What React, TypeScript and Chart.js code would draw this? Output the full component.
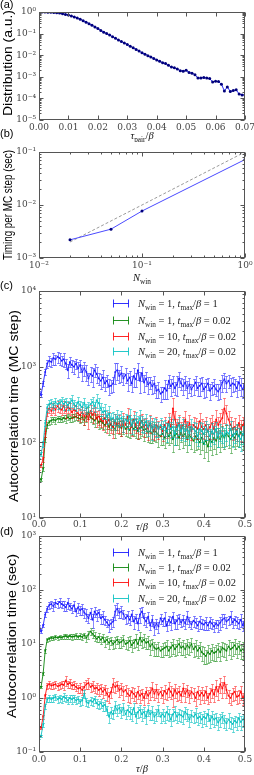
import React, { useEffect, useRef } from 'react';
import { Chart, registerables } from 'chart.js';

Chart.register(...registerables);

// ---------------- panel (a): distribution of pair lengths ----------------
const pairTau = [0, 0.001, 0.002, 0.003, 0.004, 0.005, 0.006, 0.007, 0.008, 0.009,
  0.01, 0.011, 0.012, 0.013, 0.014, 0.015, 0.016, 0.017, 0.018, 0.019,
  0.02, 0.021, 0.022, 0.023, 0.024, 0.025, 0.026, 0.027, 0.028, 0.029,
  0.03, 0.031, 0.032, 0.033, 0.034, 0.035, 0.036, 0.037, 0.038, 0.039,
  0.04, 0.041, 0.042, 0.043, 0.044, 0.045, 0.046, 0.047, 0.048, 0.049,
  0.05, 0.051, 0.052, 0.053, 0.054, 0.055, 0.056, 0.057, 0.058, 0.059,
  0.06, 0.061, 0.062, 0.063, 0.064, 0.065, 0.066, 0.067, 0.068, 0.069, 0.07];
const pairDist = [1.0, 1.0, 0.989, 0.977, 0.966, 0.944, 0.923, 0.891, 0.832, 0.776,
  0.724, 0.661, 0.589, 0.525, 0.457, 0.398, 0.339, 0.288, 0.245, 0.204,
  0.170, 0.141, 0.117, 0.100, 0.0851, 0.0724, 0.0603, 0.0501, 0.0427, 0.0372,
  0.0316, 0.0263, 0.0219, 0.0186, 0.0155, 0.0129, 0.0112, 0.00955, 0.00832, 0.00708,
  0.00603, 0.00525, 0.00447, 0.00417, 0.00339, 0.00282, 0.00263, 0.00229, 0.00191, 0.00182,
  0.00200, 0.00158, 0.00145, 0.00126, 0.00087, 0.00087, 0.00093, 0.00087, 0.00083, 0.00058,
  0.00063, 0.00060, 0.00045, 0.00022, 0.00034, 0.00021, 0.00023, 0.00025, 0.00016, 0.000145, 0.000145];
const pairTicks = [0, 0.01, 0.02, 0.03, 0.04, 0.05, 0.06, 0.07];
const distDecades = [1e-5, 1e-4, 1e-3, 1e-2, 1e-1, 1];

// ---------------- panel (b): timing per MC step ----------------
const winFraction = [0.02, 0.05, 0.1, 1];
const timingPerStep = [0.0022, 0.0035, 0.0077, 0.072];
const idealFraction = [0.02, 1];
const idealTiming = [0.002, 0.1];
const winDecades = [0.01, 0.1, 1];
const timingDecades = [0.001, 0.01, 0.1];

// ---------------- panels (c), (d): autocorrelation times ----------------
const tauGrid = [0, 0.005, 0.01, 0.015, 0.02, 0.025, 0.03, 0.035, 0.04, 0.045,
  0.05, 0.055, 0.06, 0.065, 0.07, 0.075, 0.08, 0.085, 0.09, 0.095,
  0.1, 0.105, 0.11, 0.115, 0.12, 0.125, 0.13, 0.135, 0.14, 0.145,
  0.15, 0.155, 0.16, 0.165, 0.17, 0.175, 0.18, 0.185, 0.19, 0.195,
  0.2, 0.205, 0.21, 0.215, 0.22, 0.225, 0.23, 0.235, 0.24, 0.245,
  0.25, 0.255, 0.26, 0.265, 0.27, 0.275, 0.28, 0.285, 0.29, 0.295,
  0.3, 0.305, 0.31, 0.315, 0.32, 0.325, 0.33, 0.335, 0.34, 0.345,
  0.35, 0.355, 0.36, 0.365, 0.37, 0.375, 0.38, 0.385, 0.39, 0.395,
  0.4, 0.405, 0.41, 0.415, 0.42, 0.425, 0.43, 0.435, 0.44, 0.445,
  0.45, 0.455, 0.46, 0.465, 0.47, 0.475, 0.48, 0.485, 0.49, 0.495, 0.5];
const tauTicks = [0, 0.1, 0.2, 0.3, 0.4, 0.5];
const mcDecades = [10, 100, 1000, 10000];
const secDecades = [0.1, 1, 10, 100, 1000];

// (c) autocorrelation time in MC steps
const mcBlue = [500, 420, 600, 850, 1100, 1200, 1150, 1300, 1250, 1350,
  1300, 1200, 1250, 1100, 900, 1150, 1050, 1000, 1100, 950,
  1050, 850, 950, 850, 700, 800, 750, 900, 800, 700,
  650, 720, 600, 650, 550, 560, 600, 850, 900, 750,
  820, 700, 780, 650, 720, 600, 750, 680, 900, 650,
  820, 620, 700, 580, 620, 550, 600, 480, 500, 440,
  460, 520, 480, 650, 550, 600, 520, 580, 700, 600,
  550, 620, 520, 580, 500, 560, 620, 520, 560, 600,
  500, 540, 600, 480, 520, 560, 500, 470, 520, 620,
  680, 600, 650, 560, 600, 580, 520, 620, 560, 500, 650];
const mcGreen = [32, 32, 45, 110, 170, 185, 195, 200, 195, 205,
  205, 200, 210, 205, 215, 205, 210, 215, 220, 210,
  205, 215, 195, 220, 250, 215, 205, 195, 210, 185,
  190, 180, 170, 185, 160, 175, 160, 150, 175, 160,
  155, 170, 150, 160, 145, 165, 150, 160, 140, 155,
  160, 145, 150, 135, 140, 130, 145, 135, 125, 120,
  130, 115, 140, 120, 135, 110, 125, 130, 115, 135,
  120, 130, 110, 125, 115, 105, 120, 110, 100, 115,
  95, 105, 88, 110, 100, 115, 105, 120, 110, 125,
  115, 130, 120, 110, 125, 115, 130, 120, 135, 125, 120];
const mcRed = [45, 50, 60, 130, 250, 280, 260, 290, 270, 300,
  280, 270, 300, 260, 290, 280, 250, 270, 260, 240,
  230, 250, 220, 240, 200, 260, 230, 250, 210, 220,
  200, 190, 210, 180, 200, 170, 160, 190, 170, 180,
  160, 190, 170, 220, 180, 160, 200, 170, 150, 180,
  190, 160, 170, 150, 180, 160, 140, 170, 150, 160,
  140, 170, 150, 190, 160, 280, 200, 160, 180, 150,
  170, 200, 150, 180, 140, 170, 160, 150, 190, 160,
  150, 170, 140, 160, 180, 150, 200, 170, 190, 210,
  280, 240, 200, 170, 150, 160, 140, 180, 150, 170, 190];
const mcCyan = [65, 70, 95, 180, 290, 320, 330, 310, 340, 320,
  330, 350, 320, 340, 310, 330, 360, 320, 300, 340,
  310, 290, 330, 280, 300, 320, 340, 300, 360, 330,
  280, 250, 260, 220, 240, 200, 210, 190, 220, 200,
  210, 180, 200, 190, 220, 170, 190, 200, 180, 210,
  180, 170, 190, 160, 180, 150, 170, 160, 150, 170,
  150, 160, 140, 170, 150, 160, 130, 150, 170, 140,
  160, 140, 150, 130, 160, 150, 140, 120, 150, 140,
  130, 150, 140, 120, 140, 130, 150, 120, 140, 130,
  120, 140, 130, 150, 120, 130, 140, 120, 110, 130, 120];

// (d) autocorrelation time in seconds
const secBlue = [24, 17, 22, 35, 45, 53, 55, 50, 58, 55,
  60, 55, 52, 48, 58, 50, 45, 52, 40, 48,
  42, 45, 38, 35, 30, 38, 28, 40, 35, 38,
  30, 32, 28, 25, 22, 24, 26, 40, 45, 38,
  40, 36, 30, 33, 28, 35, 26, 30, 24, 35,
  40, 30, 26, 32, 22, 28, 20, 24, 21, 30,
  26, 30, 22, 28, 25, 32, 24, 27, 30, 25,
  28, 24, 32, 26, 23, 27, 25, 22, 26, 24,
  23, 25, 22, 26, 24, 21, 24, 22, 25, 28,
  30, 26, 28, 32, 25, 28, 26, 24, 28, 22, 30];
const secGreen = [1.6, 1.6, 2.8, 7.5, 12, 12.5, 13, 12.8, 13.5, 13,
  13.5, 13.2, 13.8, 14, 13.5, 14, 13.6, 13.8, 14.2, 13.5,
  14, 13.5, 14.5, 13, 15, 17, 15.5, 14, 12.5, 13.5,
  12, 13, 11, 12, 10.5, 11.5, 10, 11, 12, 10.5,
  11, 12, 10, 10.5, 11.5, 9.5, 10.5, 12, 10, 13,
  11, 12, 10.5, 11, 9, 10, 8.5, 8, 8.5, 7.5,
  8, 8.5, 9, 7.5, 8.5, 9.5, 8, 9, 10, 8.5,
  9, 8, 9.5, 8.5, 10, 8, 9, 7.5, 8.5, 7,
  6.5, 6, 7, 6.5, 7.5, 6.8, 7.2, 8, 7, 8.5,
  8, 7.5, 9, 8, 8.5, 9.5, 8, 9, 7.5, 8, 7];
const secRed = [0.28, 0.28, 0.45, 1.1, 1.7, 1.8, 1.7, 1.75, 1.8, 1.65,
  1.7, 1.8, 1.75, 2.1, 1.8, 1.9, 1.7, 1.75, 1.6, 1.5,
  1.55, 1.4, 1.6, 1.8, 1.9, 1.6, 1.7, 1.5, 1.55, 1.4,
  1.5, 1.3, 1.45, 1.2, 1.05, 1.3, 1.8, 1.6, 1.7, 1.4,
  1.5, 1.3, 1.4, 1.2, 1.1, 1.3, 1.2, 1.05, 1.3, 1.1,
  1.2, 1.0, 1.3, 1.1, 1.25, 1.5, 1.2, 1.4, 1.15, 1.3,
  1.1, 1.35, 1.2, 1.5, 1.3, 1.1, 1.4, 1.2, 1.3, 1.1,
  1.5, 1.2, 1.4, 1.1, 1.3, 1.2, 1.0, 1.3, 1.1, 1.25,
  1.1, 1.3, 1.0, 1.2, 1.4, 1.15, 1.6, 1.3, 1.8, 1.5,
  1.9, 1.4, 1.1, 1.0, 1.2, 1.3, 1.05, 1.1, 1.3, 1.0, 1.2];
const secCyan = [0.18, 0.2, 0.32, 0.7, 0.95, 1.0, 0.95, 1.0, 1.05, 0.95,
  1.0, 0.95, 1.05, 1.0, 0.9, 1.0, 0.95, 1.0, 0.9, 0.95,
  0.85, 0.9, 1.2, 0.85, 0.8, 0.9, 0.85, 0.95, 0.8, 0.75,
  0.8, 0.7, 0.75, 0.6, 0.45, 0.55, 0.5, 0.7, 0.6, 0.65,
  0.55, 0.65, 0.5, 0.6, 0.55, 0.5, 0.65, 0.45, 0.55, 0.6,
  0.5, 0.55, 0.45, 0.6, 0.5, 0.55, 0.45, 0.5, 0.6, 0.45,
  0.5, 0.45, 0.55, 0.5, 0.4, 0.5, 0.55, 0.45, 0.5, 0.48,
  0.45, 0.55, 0.5, 0.4, 0.48, 0.45, 0.5, 0.42, 0.45, 0.4,
  0.45, 0.42, 0.5, 0.38, 0.45, 0.4, 0.42, 0.35, 0.4, 0.45,
  0.38, 0.34, 0.4, 0.36, 0.33, 0.38, 0.35, 0.42, 0.36, 0.4, 0.45];

// relative error bars (percent of value), per series, same runs in (c) and (d)
const errBlue = [5, 5, 8, 10, 12, 15, 14, 18, 15, 16,
  18, 14, 20, 16, 22, 15, 18, 20, 16, 22,
  18, 24, 20, 25, 18, 22, 28, 20, 24, 18,
  22, 26, 20, 18, 24, 20, 22, 30, 25, 20,
  24, 18, 22, 26, 20, 24, 28, 20, 25, 30,
  22, 26, 20, 24, 18, 22, 26, 20, 24, 22,
  18, 28, 22, 20, 26, 24, 20, 30, 22, 18,
  24, 20, 26, 22, 18, 24, 20, 22, 26, 20,
  22, 26, 18, 24, 20, 22, 18, 24, 28, 26,
  22, 24, 20, 26, 22, 18, 24, 20, 26, 22, 28];
const errGreen = [4, 4, 6, 8, 8, 8, 10, 8, 10, 9,
  10, 8, 10, 11, 9, 10, 12, 10, 11, 10,
  12, 14, 12, 15, 18, 14, 16, 18, 14, 20,
  18, 16, 20, 18, 22, 18, 20, 24, 18, 20,
  22, 24, 20, 26, 22, 24, 20, 28, 22, 26,
  24, 28, 22, 26, 30, 24, 28, 26, 30, 24,
  28, 26, 30, 24, 28, 32, 26, 30, 28, 26,
  30, 28, 32, 26, 30, 28, 34, 26, 30, 32,
  35, 30, 36, 28, 32, 30, 34, 28, 32, 30,
  28, 32, 30, 34, 28, 30, 32, 28, 30, 34, 30];
const errRed = [5, 5, 8, 10, 12, 14, 12, 15, 14, 16,
  14, 15, 18, 20, 16, 18, 15, 17, 16, 18,
  20, 18, 22, 20, 24, 20, 22, 18, 24, 22,
  20, 24, 22, 26, 24, 22, 28, 24, 22, 26,
  24, 28, 22, 30, 26, 24, 28, 22, 26, 28,
  24, 26, 22, 28, 26, 30, 24, 28, 26, 24,
  26, 28, 24, 30, 26, 38, 30, 26, 28, 24,
  28, 30, 26, 28, 24, 28, 30, 26, 30, 28,
  26, 28, 24, 30, 28, 26, 32, 28, 30, 32,
  36, 30, 28, 26, 28, 30, 26, 28, 30, 26, 30];
const errCyan = [5, 5, 8, 10, 12, 14, 12, 15, 13, 14,
  15, 14, 16, 15, 14, 16, 18, 15, 14, 16,
  15, 16, 18, 16, 15, 18, 16, 15, 20, 18,
  20, 18, 22, 20, 24, 22, 20, 24, 22, 20,
  22, 24, 20, 22, 26, 24, 22, 24, 22, 26,
  24, 22, 26, 24, 22, 28, 24, 26, 22, 24,
  26, 24, 28, 26, 24, 26, 28, 24, 26, 24,
  28, 26, 24, 28, 26, 24, 28, 26, 24, 28,
  26, 28, 24, 26, 28, 26, 24, 28, 26, 24,
  28, 26, 30, 26, 28, 24, 26, 28, 30, 26, 28];

// ---------------- drawing helpers ----------------
const SERIF = '"DejaVu Serif", "Liberation Serif", serif';
const SANS = '"Liberation Sans", Arial, sans-serif';
const MATH = '"Liberation Serif", "DejaVu Serif", serif';

const SUP: Record<string, string> = { '0': '⁰', '1': '¹', '2': '²', '3': '³', '4': '⁴', '5': '⁵', '6': '⁶', '7': '⁷', '8': '⁸', '9': '⁹', '-': '⁻' };
const pow10Label = (v: number) => '10' + String(Math.round(Math.log10(v))).split('').map((c) => SUP[c]).join('');

type Seg = { t: string; it?: boolean; sub?: boolean };

function drawRich(ctx: CanvasRenderingContext2D, segs: Seg[], x: number, y: number, size: number, align: 'left' | 'center') {
  const f = (s: Seg) => `${s.it ? 'italic ' : ''}${s.sub ? (size * 0.7).toFixed(1) : size}px ${MATH}`;
  let w = 0;
  for (const s of segs) { ctx.font = f(s); w += ctx.measureText(s.t).width; }
  let cx = align === 'center' ? x - w / 2 : x;
  ctx.textAlign = 'left';
  ctx.textBaseline = 'alphabetic';
  for (const s of segs) {
    ctx.font = f(s);
    ctx.fillText(s.t, cx, s.sub ? y + size * 0.25 : y);
    cx += ctx.measureText(s.t).width;
  }
}

function logMinors(min: number, max: number) {
  const out: number[] = [];
  for (let e = Math.floor(Math.log10(min)) - 1; e <= Math.ceil(Math.log10(max)); e++) {
    for (let m = 2; m <= 9; m++) {
      const v = m * Math.pow(10, e);
      if (v > min * 1.0001 && v < max * 0.9999) out.push(v);
    }
  }
  return out;
}

interface Deco {
  tag: string; tagY: number;
  yTitle: string; yTitleX: number; yTitleY: number; yTitleLen: number;
  xTitle: Seg[]; xTitleY: number;
  legend?: { rows: Seg[][]; colors: string[]; ys: number[] };
  errs?: number[][]; errColors?: string[];
}

function decoPlugin(d: Deco) {
  return {
    id: 'deco',
    afterDatasetDraw(chart: any, args: any) {
      if (!d.errs) return;
      const e = d.errs[args.index];
      if (!e) return;
      const ds = chart.data.datasets[args.index];
      const ys = chart.scales.y;
      const ctx: CanvasRenderingContext2D = chart.ctx;
      const ca = chart.chartArea;
      ctx.save();
      ctx.beginPath();
      ctx.rect(ca.left, ca.top, ca.right - ca.left, ca.bottom - ca.top);
      ctx.clip();
      ctx.strokeStyle = d.errColors![args.index];
      ctx.lineWidth = 1;
      ctx.beginPath();
      args.meta.data.forEach((pt: any, i: number) => {
        const v = ds.data[i].y;
        const r = e[i] / 100;
        const x = Math.round(pt.x) + 0.5;
        const y1 = Math.round(ys.getPixelForValue(v * (1 + r))) + 0.5;
        const y2 = Math.round(ys.getPixelForValue(v * (1 - r))) + 0.5;
        ctx.moveTo(x, y1); ctx.lineTo(x, y2);
        ctx.moveTo(x - 1.5, y1); ctx.lineTo(x + 1.5, y1);
        ctx.moveTo(x - 1.5, y2); ctx.lineTo(x + 1.5, y2);
      });
      ctx.stroke();
      ctx.restore();
    },
    afterDraw(chart: any) {
      const ctx: CanvasRenderingContext2D = chart.ctx;
      const ca = chart.chartArea;
      const xs = chart.scales.x;
      const ys = chart.scales.y;
      ctx.save();
      // frame
      const L = Math.round(ca.left) + 0.5, R = Math.round(ca.right) - 0.5;
      const T = Math.round(ca.top) + 0.5, B = Math.round(ca.bottom) - 0.5;
      ctx.strokeStyle = '#555';
      ctx.lineWidth = 1;
      ctx.strokeRect(L, T, R - L, B - T);
      // inward ticks on all four sides
      ctx.beginPath();
      const xTick = (v: number, len: number) => {
        const p = Math.round(xs.getPixelForValue(v)) + 0.5;
        ctx.moveTo(p, B); ctx.lineTo(p, B - len);
        ctx.moveTo(p, T); ctx.lineTo(p, T + len);
      };
      const yTick = (v: number, len: number) => {
        const p = Math.round(ys.getPixelForValue(v)) + 0.5;
        ctx.moveTo(L, p); ctx.lineTo(L + len, p);
        ctx.moveTo(R, p); ctx.lineTo(R - len, p);
      };
      xs.ticks.forEach((t: any) => xTick(t.value, 4));
      ys.ticks.forEach((t: any) => yTick(t.value, 4));
      if (xs.type === 'logarithmic') logMinors(xs.min, xs.max).forEach((v) => xTick(v, 2));
      if (ys.type === 'logarithmic') logMinors(ys.min, ys.max).forEach((v) => yTick(v, 2));
      ctx.stroke();

      // panel tag
      ctx.fillStyle = '#000';
      ctx.font = `11px ${SANS}`;
      ctx.textAlign = 'left';
      ctx.textBaseline = 'middle';
      ctx.fillText(d.tag, 0, d.tagY);

      // y title (rotated)
      ctx.save();
      ctx.font = `12px ${SANS}`;
      const w = ctx.measureText(d.yTitle).width;
      ctx.translate(d.yTitleX, d.yTitleY);
      ctx.rotate(-Math.PI / 2);
      ctx.scale(d.yTitleLen / w, 1);
      ctx.textAlign = 'center';
      ctx.textBaseline = 'middle';
      ctx.fillText(d.yTitle, 0, 0);
      ctx.restore();

      // x title
      ctx.fillStyle = '#111';
      drawRich(ctx, d.xTitle, (ca.left + ca.right) / 2, d.xTitleY, 10.5, 'center');

      // legend
      if (d.legend) {
        const lg = d.legend;
        lg.rows.forEach((segs, i) => {
          const y = Math.round(lg.ys[i]) + 0.5;
          ctx.strokeStyle = lg.colors[i];
          ctx.lineWidth = 1;
          ctx.beginPath();
          ctx.moveTo(113.5, y); ctx.lineTo(128.5, y);
          ctx.moveTo(113.5, y - 4); ctx.lineTo(113.5, y + 4);
          ctx.moveTo(128.5, y - 4); ctx.lineTo(128.5, y + 4);
          ctx.stroke();
          ctx.fillStyle = '#222';
          drawRich(ctx, segs, 138, y + 3.5, 10.5, 'left');
        });
      }
      ctx.restore();
    },
  };
}

const tickStyle = { font: { family: SERIF, size: 9 }, color: '#444', autoSkip: false, maxRotation: 0, minRotation: 0 };

function axisX(type: string, min: number, max: number, ticks: number[], fmt: (v: number) => string, h: number, pad: number) {
  return {
    type, min, max,
    grid: { display: false, drawTicks: false }, border: { display: false },
    ticks: { ...tickStyle, padding: pad, callback: (v: any) => fmt(Number(v)) },
    afterBuildTicks: (ax: any) => { ax.ticks = ticks.map((value) => ({ value })); },
    afterFit: (ax: any) => { ax.height = h; ax.paddingLeft = 0; ax.paddingRight = 0; },
  };
}
function axisYLog(min: number, max: number, decades: number[]) {
  return {
    type: 'logarithmic', min, max,
    grid: { display: false, drawTicks: false }, border: { display: false },
    ticks: { ...tickStyle, padding: 3, callback: (v: any) => pow10Label(Number(v)) },
    afterBuildTicks: (ax: any) => { ax.ticks = decades.map((value) => ({ value })); },
    afterFit: (ax: any) => { ax.width = 39; ax.paddingTop = 0; ax.paddingBottom = 0; },
  };
}

function baseOptions(padTop: number, scales: any) {
  return {
    responsive: false,
    animation: false,
    devicePixelRatio: 1,
    events: [],
    layout: { padding: { top: padTop, right: 9, left: 0, bottom: 0 } },
    plugins: { legend: { display: false }, tooltip: { enabled: false } },
    scales,
  };
}

const COLORS = {
  blue: { line: 'rgba(0,0,255,0.8)', err: 'rgba(40,40,255,0.55)' },
  green: { line: 'rgba(0,128,0,0.85)', err: 'rgba(0,128,0,0.45)' },
  red: { line: 'rgba(255,0,0,0.85)', err: 'rgba(255,0,0,0.45)' },
  cyan: { line: 'rgba(0,191,191,0.85)', err: 'rgba(0,191,191,0.55)' },
};

const legendRows: Seg[][] = [
  [{ t: 'N', it: true }, { t: 'win', sub: true }, { t: ' = 1, ' }, { t: 't', it: true }, { t: 'max', sub: true }, { t: '/' }, { t: 'β', it: true }, { t: ' = 1' }],
  [{ t: 'N', it: true }, { t: 'win', sub: true }, { t: ' = 1, ' }, { t: 't', it: true }, { t: 'max', sub: true }, { t: '/' }, { t: 'β', it: true }, { t: ' = 0.02' }],
  [{ t: 'N', it: true }, { t: 'win', sub: true }, { t: ' = 10, ' }, { t: 't', it: true }, { t: 'max', sub: true }, { t: '/' }, { t: 'β', it: true }, { t: ' = 0.02' }],
  [{ t: 'N', it: true }, { t: 'win', sub: true }, { t: ' = 20, ' }, { t: 't', it: true }, { t: 'max', sub: true }, { t: '/' }, { t: 'β', it: true }, { t: ' = 0.02' }],
];
const legendColors = [COLORS.blue.line, COLORS.green.line, COLORS.red.line, COLORS.cyan.line];

function autocorrDatasets(b: number[], g: number[], r: number[], c: number[]) {
  const mk = (vals: number[], col: { line: string }, order: number) => ({
    data: tauGrid.map((x, i) => ({ x, y: vals[i] })),
    borderColor: col.line, backgroundColor: col.line, borderWidth: 1,
    pointRadius: 1, pointBorderWidth: 0, pointBackgroundColor: col.line, order,
  });
  return [mk(b, COLORS.blue, 3), mk(g, COLORS.green, 2), mk(r, COLORS.red, 1), mk(c, COLORS.cyan, 0)];
}

const errSets = [errBlue, errGreen, errRed, errCyan];
const errColors = [COLORS.blue.err, COLORS.green.err, COLORS.red.err, COLORS.cyan.err];

function buildA(): any {
  return {
    type: 'line',
    data: {
      datasets: [{
        data: pairTau.map((x, i) => ({ x, y: pairDist[i] })),
        borderColor: '#2a2aff', borderWidth: 1, pointRadius: 1.5, pointBorderWidth: 0,
        pointBackgroundColor: '#00007a',
      }],
    },
    options: baseOptions(12, {
      x: axisX('linear', 0, 0.07, pairTicks, (v) => v.toFixed(2), 22, 2),
      y: axisYLog(1e-5, 1, distDecades),
    }),
    plugins: [decoPlugin({
      tag: '(a)', tagY: 5,
      yTitle: 'Distribution (a.u.)', yTitleX: 9, yTitleY: 63, yTitleLen: 106,
      xTitle: [{ t: 'τ', it: true }, { t: 'pair', sub: true }, { t: '/' }, { t: 'β', it: true }], xTitleY: 139,
    })],
  };
}

function buildB(): any {
  return {
    type: 'line',
    data: {
      datasets: [
        {
          data: winFraction.map((x, i) => ({ x, y: timingPerStep[i] })),
          borderColor: '#4a4aff', borderWidth: 1, pointRadius: 1.5, pointBorderWidth: 0,
          pointBackgroundColor: '#00007a',
        },
        {
          data: idealFraction.map((x, i) => ({ x, y: idealTiming[i] })),
          borderColor: '#9a9a9a', borderWidth: 1, borderDash: [3, 2], pointRadius: 0,
        },
      ],
    },
    options: baseOptions(28, {
      x: axisX('logarithmic', 0.01, 1, winDecades, pow10Label, 26, 2),
      y: axisYLog(0.001, 0.1, timingDecades),
    }),
    plugins: [decoPlugin({
      tag: '(b)', tagY: 10,
      yTitle: 'Timing per MC step (sec)', yTitleX: 9, yTitleY: 81, yTitleLen: 110,
      xTitle: [{ t: 'N', it: true }, { t: 'win', sub: true }], xTitleY: 157,
    })],
  };
}

function buildC(): any {
  return {
    type: 'line',
    data: { datasets: autocorrDatasets(mcBlue, mcGreen, mcRed, mcCyan) },
    options: baseOptions(13, {
      x: axisX('linear', 0, 0.5, tauTicks, (v) => v.toFixed(1), 18, 1),
      y: axisYLog(10, 10000, mcDecades),
    }),
    plugins: [decoPlugin({
      tag: '(c)', tagY: 8,
      yTitle: 'Autocorrelation time (MC step)', yTitleX: 15, yTitleY: 128, yTitleLen: 192,
      xTitle: [{ t: 'τ', it: true }, { t: '/' }, { t: 'β', it: true }], xTitleY: 252,
      legend: { rows: legendRows, colors: legendColors, ys: [25, 42, 58, 73] },
      errs: errSets, errColors,
    })],
  };
}

function buildD(): any {
  return {
    type: 'line',
    data: { datasets: autocorrDatasets(secBlue, secGreen, secRed, secCyan) },
    options: baseOptions(12, {
      x: axisX('linear', 0, 0.5, tauTicks, (v) => v.toFixed(1), 23, 2),
      y: axisYLog(0.1, 1000, secDecades),
    }),
    plugins: [decoPlugin({
      tag: '(d)', tagY: 8,
      yTitle: 'Autocorrelation time (sec)', yTitleX: 13, yTitleY: 112, yTitleLen: 164,
      xTitle: [{ t: 'τ', it: true }, { t: '/' }, { t: 'β', it: true }], xTitleY: 248,
      legend: { rows: legendRows, colors: legendColors, ys: [28, 43, 58, 74] },
      errs: errSets, errColors,
    })],
  };
}

function Panel({ top, height, build }: { top: number; height: number; build: () => any }) {
  const ref = useRef<HTMLCanvasElement>(null);
  useEffect(() => {
    const chart = new Chart(ref.current as HTMLCanvasElement, build());
    return () => chart.destroy();
  }, []);
  return (
    <canvas
      ref={ref}
      width={254}
      height={height}
      style={{ position: 'absolute', left: 0, top, width: 254, height }}
    />
  );
}

export default function App() {
  return (
    <div style={{ position: 'absolute', left: 0, top: 0, width: 254, height: 775, background: '#fff' }}>
      <Panel top={0} height={142} build={buildA} />
      <Panel top={124} height={160} build={buildB} />
      <Panel top={278} height={258} build={buildC} />
      <Panel top={524} height={251} build={buildD} />
    </div>
  );
}
